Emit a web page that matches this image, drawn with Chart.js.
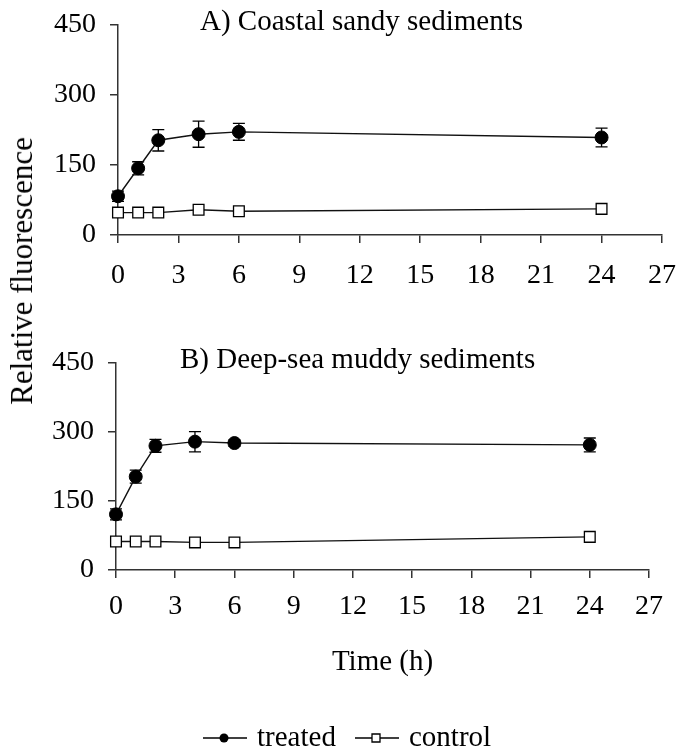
<!DOCTYPE html>
<html lang="en">
<head>
<meta charset="UTF-8">
<title>Relative fluorescence</title>
<script src="https://cdn.jsdelivr.net/npm/chart.js"></script>
<style>
  body { margin: 0; background: #fff; }
  #wrap { position: relative; width: 678px; height: 752px; }
  #chartA { position: absolute; left: 0; top: 0; }
  #chartB { position: absolute; left: 0; top: 300px; }
  #ylabel {
    position: absolute; left: 22px; top: 271px;
    transform: translate(-50%, -50%) rotate(-90deg);
    font: 31px 'Liberation Serif', serif; color: #000; white-space: nowrap;
  }
</style>
</head>
<body>
<div id="wrap">
  <canvas id="chartA" width="678" height="300"></canvas>
  <canvas id="chartB" width="678" height="452"></canvas>
  <div id="ylabel">Relative fluorescence</div>
</div>
<script>
// time points (h)
const hours = [0, 1, 2, 4, 6, 24];
const xTicks = [0, 3, 6, 9, 12, 15, 18, 21, 24, 27];
const yTicks = [0, 150, 300, 450];

// A) Coastal sandy sediments
const treatedA = [83, 143, 203, 216, 221, 209];
const treatedAErr = [11, 14, 23, 28, 18, 20];
const controlA = [48, 48, 48, 54, 51, 56];

// B) Deep-sea muddy sediments
const treatedB = [121, 203, 270, 279, 276, 272];
const treatedBErr = [12, 14, 14, 22, 7, 15];
const controlB = [62, 62, 62, 60, 60, 72];

const FONT = "'Liberation Serif', 'Times New Roman', serif";

const toPoints = vals => hours.map((h, i) => ({ x: h, y: vals[i] }));

// vertical error bars with caps, drawn under the markers
const errorBars = {
  id: 'errorBars',
  beforeDatasetsDraw(chart) {
    const ctx = chart.ctx;
    const y = chart.scales.y;
    chart.data.datasets.forEach((ds, i) => {
      if (!ds.errors) return;
      const meta = chart.getDatasetMeta(i);
      ctx.save();
      ctx.strokeStyle = '#000';
      ctx.lineWidth = 1.3;
      meta.data.forEach((pt, j) => {
        const v = ds.data[j].y, e = ds.errors[j];
        const top = y.getPixelForValue(v + e);
        const bot = y.getPixelForValue(v - e);
        ctx.beginPath();
        ctx.moveTo(pt.x, top); ctx.lineTo(pt.x, bot);
        ctx.moveTo(pt.x - 6, top); ctx.lineTo(pt.x + 6, top);
        ctx.moveTo(pt.x - 6, bot); ctx.lineTo(pt.x + 6, bot);
        ctx.stroke();
      });
      ctx.restore();
    });
  }
};

// panel title and optional x title / legend
const panelText = {
  id: 'panelText',
  afterDraw(chart, args, opts) {
    const ctx = chart.ctx;
    ctx.save();
    ctx.fillStyle = '#000';
    ctx.font = '29px ' + FONT;
    ctx.textBaseline = 'middle';
    ctx.textAlign = 'left';
    ctx.fillText(opts.title, opts.titleX, opts.titleY);

    if (opts.xTitle) {
      const area = chart.chartArea;
      ctx.textAlign = 'center';
      ctx.fillText(opts.xTitle, (area.left + area.right) / 2, opts.xTitleY);
    }

    if (opts.legend) {
      const ly = opts.legendY;
      ctx.strokeStyle = '#000';
      ctx.lineWidth = 1.3;
      ctx.textAlign = 'left';
      opts.legend.forEach(item => {
        ctx.beginPath();
        ctx.moveTo(item.x, ly); ctx.lineTo(item.x + 44, ly);
        ctx.stroke();
        const cx = item.x + 21;
        ctx.beginPath();
        if (item.style === 'circle') {
          ctx.arc(cx, ly, 4.5, 0, Math.PI * 2);
          ctx.fillStyle = '#000';
          ctx.fill();
        } else {
          ctx.rect(cx - 4, ly - 4, 8, 8);
          ctx.fillStyle = '#fff';
          ctx.fill();
          ctx.stroke();
        }
        ctx.fillStyle = '#000';
        ctx.fillText(item.label, item.x + 54, ly);
      });
    }
    ctx.restore();
  }
};

function makeChart(id, treated, treatedErr, control, layout, textOpts) {
  const axisColor = '#333';
  return new Chart(document.getElementById(id), {
    type: 'line',
    data: {
      datasets: [
        {
          label: 'treated',
          data: toPoints(treated),
          errors: treatedErr,
          borderColor: '#111',
          borderWidth: 1.4,
          pointStyle: 'circle',
          pointRadius: 6.5,
          pointBackgroundColor: '#000',
          pointBorderColor: '#000',
          pointBorderWidth: 1,
          tension: 0,
          clip: false
        },
        {
          label: 'control',
          data: toPoints(control),
          borderColor: '#111',
          borderWidth: 1.4,
          pointStyle: 'rect',
          pointRadius: 7.6,
          pointBackgroundColor: '#fff',
          pointBorderColor: '#000',
          pointBorderWidth: 1.3,
          tension: 0,
          clip: false
        }
      ]
    },
    options: {
      responsive: false,
      animation: false,
      layout: { padding: layout.padding },
      plugins: {
        legend: { display: false },
        tooltip: { enabled: false },
        panelText: textOpts
      },
      scales: {
        x: {
          type: 'linear',
          min: 0,
          max: 27,
          afterBuildTicks: s => { s.ticks = xTicks.map(v => ({ value: v })); },
          afterFit: s => { s.height = layout.xHeight; s.paddingLeft = 0; s.paddingRight = 0; },
          ticks: { color: '#000', font: { family: FONT, size: 28 }, padding: layout.xPad, maxRotation: 0 },
          grid: { drawOnChartArea: false, drawTicks: true, tickLength: 8, color: axisColor, lineWidth: 1.5 },
          border: { color: axisColor, width: 1.5 }
        },
        y: {
          min: 0,
          max: 450,
          afterBuildTicks: s => { s.ticks = yTicks.map(v => ({ value: v })); },
          afterFit: s => { s.width = layout.yWidth; s.paddingTop = 0; s.paddingBottom = 0; },
          ticks: { color: '#000', font: { family: FONT, size: 28 }, padding: 14 },
          grid: { drawOnChartArea: false, drawTicks: true, tickLength: 8, color: axisColor, lineWidth: 1.5 },
          border: { color: axisColor, width: 1.5 }
        }
      }
    },
    plugins: [errorBars, panelText]
  });
}

makeChart('chartA', treatedA, treatedAErr, controlA,
  { padding: { top: 25, right: 16, left: 0, bottom: 0 }, xHeight: 65, yWidth: 118, xPad: 16 },
  { title: 'A) Coastal sandy sediments', titleX: 200, titleY: 22 });

makeChart('chartB', treatedB, treatedBErr, controlB,
  { padding: { top: 63, right: 29, left: 0, bottom: 0 }, xHeight: 182, yWidth: 116, xPad: 12 },
  {
    title: 'B) Deep-sea muddy sediments', titleX: 180, titleY: 60,
    xTitle: 'Time (h)', xTitleY: 362,
    legendY: 438,
    legend: [
      { label: 'treated', style: 'circle', x: 203 },
      { label: 'control', style: 'rect', x: 355 }
    ]
  });
</script>
</body>
</html>
